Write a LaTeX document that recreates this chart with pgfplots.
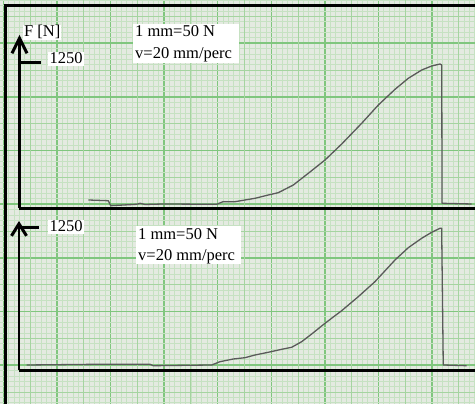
\documentclass[border=0pt]{standalone}
\usepackage{pgfplots}
\pgfplotsset{compat=1.18}
\usepackage{fontspec}
\setmainfont{Liberation Serif}
\usetikzlibrary{arrows.meta}
\definecolor{bgc}{RGB}{228,234,225}
\definecolor{gminor}{RGB}{198,225,194}
\definecolor{gmid}{RGB}{165,212,160}
\definecolor{gmajor}{RGB}{128,198,126}
\definecolor{curve}{RGB}{90,90,90}
\pgfplotstableread{
x y
12.81 72.9
16.54 66.9
16.98 24.0
21.82 36.0
22.44 44.6
23.37 34.3
26.72 38.6
36.72 36.0
37.90 58.3
40.13 58.3
41.99 72.9
43.85 87.4
46.33 115.7
48.19 135.5
50.99 201.5
53.78 301.8
56.89 415.8
60.00 553.0
63.72 730.4
66.82 887.3
69.93 1021.9
72.40 1116.2
74.90 1187.4
76.76 1221.7
78.31 1238.8
78.63 1230.2
78.68 44.6
84.21 38.6
}\toptable
\pgfplotstableread{
x y
1.43 48.1
14.47 54.2
24.39 54.2
25.01 42.0
35.88 48.1
37.43 76.9
39.91 100.5
42.09 111.9
43.95 135.5
46.42 159.1
48.92 185.3
50.78 202.8
52.64 251.7
54.51 319.0
56.98 412.5
60.09 522.7
63.18 645.1
66.29 776.2
70.02 965.9
72.50 1073.4
74.99 1155.6
76.85 1208.0
78.40 1243.0
78.71 1243.0
79.01 48.1
83.37 42.0
}\bottable
\begin{document}
\begin{tikzpicture}
% graph paper background
\begin{axis}[
  at={(0pt,0pt)}, anchor=south west, scale only axis,
  width=475pt, height=404pt,
  xmin=-10.64, xmax=78.03, ymin=-7.23, ymax=68.05,
  axis line style={draw=none}, tick style={draw=none},
  major tick length=0pt, minor tick length=0pt,
  xtick={-10,0,...,70}, ytick={0,10,...,60},
  minor xtick={-10,-9,...,78}, minor ytick={-7,-6,...,68},
  xticklabels={}, yticklabels={},
  grid=both,
  major grid style={draw=gmajor, line width=1.4pt},
  minor grid style={draw=gminor, line width=0.8pt},
  extra x ticks={-5,5,...,75}, extra y ticks={-5,5,...,65},
  extra x tick labels={}, extra y tick labels={},
  extra tick style={grid=major, major grid style={draw=gmid, line width=0.9pt}, tick style={draw=none}, major tick length=0pt},
  axis background/.style={fill=bgc},
]
\end{axis}
% top panel
\begin{axis}[
  at={(19.5pt,195.5pt)}, anchor=south west, scale only axis,
  width=455.5pt, height=173.5pt,
  xmin=0, xmax=84.82, ymin=0, ymax=1487.5,
  axis lines=left, enlargelimits=false,
  x axis line style={-, line width=3.2pt, black},
  y axis line style={-{Straight Barb[length=15pt,width=15pt,line width=3pt]}, line width=2.8pt, black},
  xtick=\empty, ytick={1250}, yticklabels={},
  tick align=inside, major tick length=21pt,
  tick style={line width=2.6pt, black},
]
\addplot[curve, line width=1.3pt, line join=round] table[x=x,y=y] {\toptable};
\end{axis}
% bottom panel
\begin{axis}[
  at={(19pt,33.5pt)}, anchor=south west, scale only axis,
  width=456pt, height=149.5pt,
  xmin=0, xmax=84.92, ymin=0, ymax=1306.8,
  axis lines=left, enlargelimits=false,
  x axis line style={-, line width=3.2pt, black},
  y axis line style={-{Straight Barb[length=12pt,width=15pt,line width=3pt]}, line width=2.8pt, black},
  xtick=\empty, ytick={1250}, yticklabels={},
  tick align=inside, major tick length=20pt,
  tick style={line width=2.6pt, black},
]
\addplot[curve, line width=1.3pt, line join=round] table[x=x,y=y] {\bottable};
\end{axis}
% frame (top and left)
\draw[line width=2.6pt, black] (5.5pt,0pt) -- (5.5pt,398.5pt) -- (475pt,398.5pt);
% labels
\fill[white] (133pt,341pt) rectangle (239pt,380pt);
\fill[white] (136pt,140pt) rectangle (241pt,178pt);
\tikzset{lbl/.style={inner sep=0pt, anchor=base west, font=\fontsize{16.5}{20}\selectfont}}
\node[lbl] at (135pt,367pt) {1 mm=50 N};
\node[lbl] at (135pt,345.5pt) {v=20 mm/perc};
\node[lbl] at (138pt,164.5pt) {1 mm=50 N};
\node[lbl] at (138pt,143pt) {v=20 mm/perc};
\node[lbl, fill=white, inner sep=1.5pt] at (48pt,340pt) {1250};
\node[lbl, fill=white, inner sep=1.5pt] at (48pt,172pt) {1250};
\node[lbl, fill=white, inner sep=1pt] at (23pt,367pt) {F [N]};
\pgfresetboundingbox
\useasboundingbox (0pt,0pt) rectangle (475pt,404pt);
\end{tikzpicture}
\end{document}
